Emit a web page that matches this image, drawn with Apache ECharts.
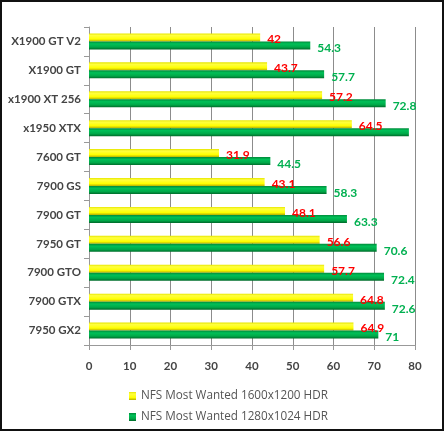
<!DOCTYPE html>
<html><head><meta charset="utf-8">
<script src="https://cdn.jsdelivr.net/npm/echarts@6/dist/echarts.min.js"></script>
<style>html,body{margin:0;padding:0;background:#fff}#c{width:444px;height:431px;box-sizing:border-box;border:2px solid #111;}</style>
</head><body><div id="c"></div>
<script>
const categories = ['X1900 GT V2','X1900 GT','x1900 XT 256','x1950 XTX','7600 GT','7900 GS','7900 GT','7950 GT','7900 GTO','7900 GTX','7950 GX2'];
const nfs1600 = [42, 43.7, 57.2, 64.5, 31.9, 43.1, 48.1, 56.6, 57.7, 64.8, 64.9];
const nfs1280 = [54.3, 57.7, 72.8, 78.5, 44.5, 58.3, 63.3, 70.6, 72.4, 72.6, 71];
const hiddenLabel1280 = ['x1950 XTX'];
const xTicks = [0,10,20,30,40,50,60,70,80];

const chart = echarts.init(document.getElementById('c'));
const font = 'Lato, "Open Sans", sans-serif';
chart.setOption({
  animation:false,
  grid:{left:87,right:27,top:25,bottom:84},
  legend:{orient:'vertical',left:122,top:383,height:60,itemWidth:7,itemHeight:8,itemGap:9,
    textStyle:{fontFamily:'"Open Sans", sans-serif',fontSize:11.7,color:'#555'},
    data:[{name:'NFS Most Wanted 1600x1200 HDR',icon:'rect'},{name:'NFS Most Wanted 1280x1024 HDR',icon:'rect'}]},
  xAxis:{type:'value',min:xTicks[0],max:xTicks[xTicks.length-1],interval:10,
    axisLine:{show:true,lineStyle:{color:'#999'}},axisTick:{show:true,length:5,lineStyle:{color:'#999'}},
    splitLine:{show:true,lineStyle:{color:'#8c8c8c',width:1}},
    axisLabel:{margin:15,fontFamily:font,fontWeight:'bold',fontSize:11.5,color:'#444'}},
  yAxis:{type:'category',inverse:true,data:categories,
    axisLine:{show:true,lineStyle:{color:'#999'}},axisTick:{show:true,length:5,lineStyle:{color:'#999'}},
    axisLabel:{margin:8,fontFamily:font,fontWeight:'bold',fontSize:11.5,color:'#444'}},
  series:[
    {name:'NFS Most Wanted 1600x1200 HDR',type:'bar',data:nfs1600,barWidth:8,barGap:'0%',
     itemStyle:{color:new echarts.graphic.LinearGradient(0,0,0,1,[{offset:0,color:'#e6e600'},{offset:0.25,color:'#ffff40'},{offset:0.7,color:'#ffff00'},{offset:1,color:'#b8b000'}])},
     label:{show:true,position:'right',distance:7,offset:[0,2],color:'#ff0000',fontFamily:font,fontWeight:'bold',fontSize:12}},
    {name:'NFS Most Wanted 1280x1024 HDR',type:'bar',data:nfs1280.map((v,i)=>hiddenLabel1280.includes(categories[i])?{value:v,label:{show:false}}:v),barWidth:8,
     itemStyle:{color:new echarts.graphic.LinearGradient(0,0,0,1,[{offset:0,color:'#008a3a'},{offset:0.3,color:'#00c058'},{offset:0.7,color:'#00a848'},{offset:1,color:'#006a2a'}])},
     label:{show:true,position:'right',distance:7,offset:[0,3],color:'#00b050',fontFamily:font,fontWeight:'bold',fontSize:12}}
  ]
});
</script></body></html>
